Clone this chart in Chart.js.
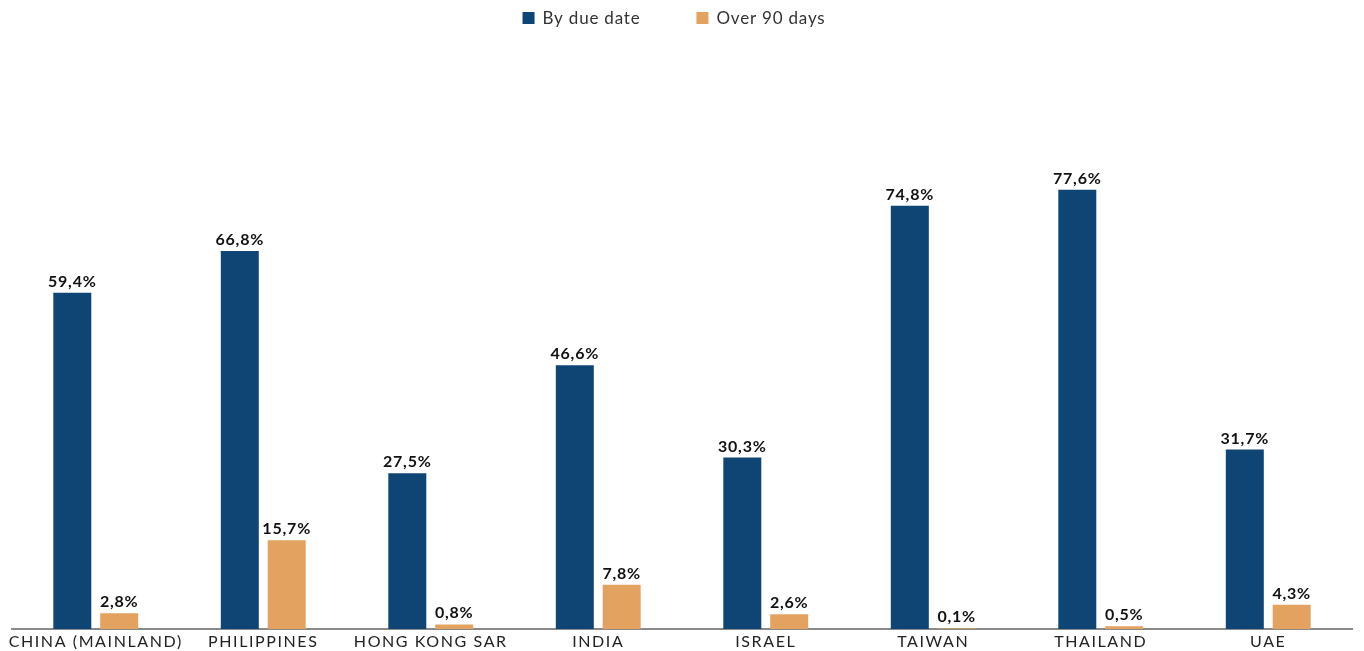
<!DOCTYPE html>
<html>
<head>
<meta charset="utf-8">
<script src="https://cdn.jsdelivr.net/npm/chart.js@4.4.1/dist/chart.umd.min.js"></script>
<style>
  html, body { margin: 0; padding: 0; background: #fff; }
  #wrap { width: 1364px; height: 651px; position: relative; }
</style>
</head>
<body>
<div id="wrap"><canvas id="barChart"></canvas></div>
<script>
// Data
const countries = ["CHINA (MAINLAND)", "PHILIPPINES", "HONG KONG SAR", "INDIA", "ISRAEL", "TAIWAN", "THAILAND", "UAE"];
const byDueDate = [59.4, 66.8, 27.5, 46.6, 30.3, 74.8, 77.6, 31.7];
const over90Days = [2.8, 15.7, 0.8, 7.8, 2.6, 0.1, 0.5, 4.3];
const seriesNames = ["By due date", "Over 90 days"];

const BLUE = "rgb(14, 69, 117)";
const ORANGE = "rgb(228, 162, 97)";
const FONT = "Lato, 'Noto Sans', sans-serif";

function fmt(v) {
    return v.toFixed(1).replace(".", ",") + "%";
}

// wider letter spacing like the original typeface
const spacing = {
    id: "spacing",
    beforeDraw(chart) {
        chart.ctx.letterSpacing = "1.6px";
    }
};

// value labels above each bar
const valueLabels = {
    id: "valueLabels",
    afterDatasetsDraw(chart) {
        const ctx = chart.ctx;
        ctx.save();
        ctx.letterSpacing = "0.8px";
        ctx.font = "bold 16px " + FONT;
        ctx.fillStyle = "#111";
        ctx.textAlign = "center";
        ctx.textBaseline = "alphabetic";
        chart.data.datasets.forEach((ds, i) => {
            chart.getDatasetMeta(i).data.forEach((bar, j) => {
                ctx.fillText(fmt(ds.data[j]), bar.x, bar.y - 6);
            });
        });
        ctx.restore();
    }
};

// legend drawn at the top, wide gap between items
const topLegend = {
    id: "topLegend",
    afterDraw(chart) {
        const ctx = chart.ctx;
        ctx.save();
        ctx.letterSpacing = "0.8px";
        ctx.font = "17px " + FONT;
        const box = 12, gap = 8, space = 56;
        const colors = chart.data.datasets.map(d => d.backgroundColor);
        const widths = seriesNames.map(n => ctx.measureText(n).width);
        let total = 0;
        widths.forEach((w, i) => { total += box + gap + w + (i > 0 ? space : 0); });
        let x = chart.width / 2 - 8 - total / 2;
        const y = 18;
        ctx.textBaseline = "middle";
        ctx.textAlign = "left";
        seriesNames.forEach((n, i) => {
            ctx.fillStyle = colors[i];
            ctx.fillRect(x, y - box / 2, box, box);
            ctx.fillStyle = "#333";
            ctx.fillText(n, x + box + gap, y + 1);
            x += box + gap + widths[i] + space;
        });
        ctx.restore();
    }
};

new Chart(document.getElementById("barChart"), {
    type: "bar",
    data: {
        labels: countries,
        datasets: [
            {
                label: seriesNames[0],
                data: byDueDate,
                backgroundColor: BLUE,
                barPercentage: 0.81,
                categoryPercentage: 0.56
            },
            {
                label: seriesNames[1],
                data: over90Days,
                backgroundColor: ORANGE,
                barPercentage: 0.81,
                categoryPercentage: 0.56
            }
        ]
    },
    options: {
        responsive: true,
        maintainAspectRatio: false,
        animation: false,
        layout: {
            padding: { top: 63, left: 12, right: 12, bottom: -4 }
        },
        plugins: {
            legend: { display: false },
            tooltip: { enabled: false }
        },
        scales: {
            x: {
                grid: { display: false, drawTicks: false },
                border: { display: true, color: "#8a8a8a", width: 2 },
                ticks: {
                    color: "#222",
                    font: { family: FONT, size: 16, lineHeight: 1 },
                    padding: 5,
                    maxRotation: 0,
                    autoSkip: false
                }
            },
            y: {
                display: false,
                min: 0,
                max: 100
            }
        }
    },
    plugins: [spacing, valueLabels, topLegend]
});
</script>
</body>
</html>
